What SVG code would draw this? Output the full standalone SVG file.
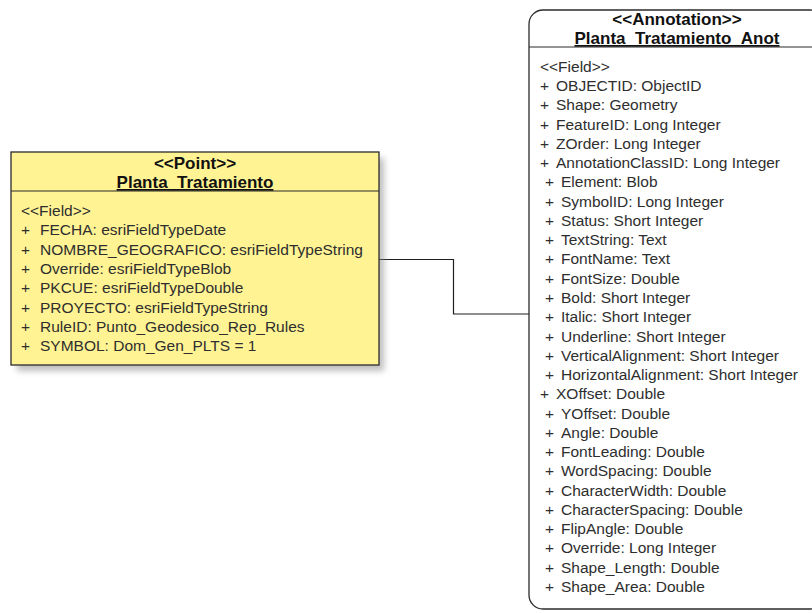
<svg xmlns="http://www.w3.org/2000/svg" width="812" height="613" viewBox="0 0 812 613">
  <style>
    .title { font-family: "Liberation Sans", Arial, sans-serif; font-size: 17px; font-weight: bold; fill: #111; text-anchor: middle; }
    .uline { text-decoration: underline; }
    .fld { font-family: "Liberation Sans", Arial, sans-serif; font-size: 15.5px; fill: #2e2e2e; }
    .box { stroke: #2b2b2b; stroke-width: 1.3; }
    .div { stroke: #2b2b2b; stroke-width: 1.2; }
    .conn { fill: none; stroke: #1e1e1e; stroke-width: 1.2; }
  </style>
  <defs>
    <filter id="shadow" x="-10%" y="-10%" width="130%" height="130%">
      <feGaussianBlur stdDeviation="3"/>
    </filter>
  </defs>
  <rect width="812" height="613" fill="#ffffff"/>

  <g id="connectors">
    <polyline class="conn" points="379,259.5 453.5,259.5 453.5,314 529,314"/>
  </g>

  <g id="node-planta-tratamiento">
    <rect x="17" y="158" width="367" height="213" fill="#8a8a8a" opacity="0.55" filter="url(#shadow)"/>
    <rect class="box" x="11" y="152" width="368" height="213" fill="#FFF394"/>
    <line class="div" x1="11" y1="191" x2="379" y2="191"/>
    <text class="title" x="195" y="168.5">&lt;&lt;Point&gt;&gt;</text>
    <text class="title uline" x="195" y="188">Planta_Tratamiento</text>
    <text class="fld" x="21" y="215.5">&lt;&lt;Field&gt;&gt;</text>
    <text class="fld" y="235"><tspan x="21">+</tspan><tspan x="40">FECHA: esriFieldTypeDate</tspan></text>
    <text class="fld" y="254.5"><tspan x="21">+</tspan><tspan x="40">NOMBRE_GEOGRAFICO: esriFieldTypeString</tspan></text>
    <text class="fld" y="274"><tspan x="21">+</tspan><tspan x="40">Override: esriFieldTypeBlob</tspan></text>
    <text class="fld" y="293.3"><tspan x="21">+</tspan><tspan x="40">PKCUE: esriFieldTypeDouble</tspan></text>
    <text class="fld" y="312.6"><tspan x="21">+</tspan><tspan x="40">PROYECTO: esriFieldTypeString</tspan></text>
    <text class="fld" y="332"><tspan x="21">+</tspan><tspan x="40">RuleID: Punto_Geodesico_Rep_Rules</tspan></text>
    <text class="fld" y="351.3"><tspan x="21">+</tspan><tspan x="40">SYMBOL: Dom_Gen_PLTS = 1</tspan></text>
  </g>

  <g id="node-planta-tratamiento-anot">
    <rect class="box" x="529" y="10" width="295" height="599" rx="14" ry="14" fill="#ffffff"/>
    <line class="div" x1="529" y1="47" x2="812" y2="47"/>
    <text class="title" x="677" y="24.5">&lt;&lt;Annotation&gt;&gt;</text>
    <text class="title uline" x="677" y="44">Planta_Tratamiento_Anot</text>
    <text class="fld" x="540" y="71.5">&lt;&lt;Field&gt;&gt;</text>
    <text class="fld" y="91"><tspan x="540">+</tspan><tspan x="556">OBJECTID: ObjectID</tspan></text>
    <text class="fld" y="110.3"><tspan x="540">+</tspan><tspan x="556">Shape: Geometry</tspan></text>
    <text class="fld" y="129.5"><tspan x="540">+</tspan><tspan x="556">FeatureID: Long Integer</tspan></text>
    <text class="fld" y="148.8"><tspan x="540">+</tspan><tspan x="556">ZOrder: Long Integer</tspan></text>
    <text class="fld" y="168.1"><tspan x="540">+</tspan><tspan x="556">AnnotationClassID: Long Integer</tspan></text>
    <text class="fld" y="187.4"><tspan x="545">+</tspan><tspan x="561">Element: Blob</tspan></text>
    <text class="fld" y="206.6"><tspan x="545">+</tspan><tspan x="561">SymbolID: Long Integer</tspan></text>
    <text class="fld" y="225.9"><tspan x="545">+</tspan><tspan x="561">Status: Short Integer</tspan></text>
    <text class="fld" y="245.2"><tspan x="545">+</tspan><tspan x="561">TextString: Text</tspan></text>
    <text class="fld" y="264.4"><tspan x="545">+</tspan><tspan x="561">FontName: Text</tspan></text>
    <text class="fld" y="283.7"><tspan x="545">+</tspan><tspan x="561">FontSize: Double</tspan></text>
    <text class="fld" y="303"><tspan x="545">+</tspan><tspan x="561">Bold: Short Integer</tspan></text>
    <text class="fld" y="322.2"><tspan x="545">+</tspan><tspan x="561">Italic: Short Integer</tspan></text>
    <text class="fld" y="341.5"><tspan x="545">+</tspan><tspan x="561">Underline: Short Integer</tspan></text>
    <text class="fld" y="360.8"><tspan x="545">+</tspan><tspan x="561">VerticalAlignment: Short Integer</tspan></text>
    <text class="fld" y="380"><tspan x="545">+</tspan><tspan x="561">HorizontalAlignment: Short Integer</tspan></text>
    <text class="fld" y="399.3"><tspan x="540">+</tspan><tspan x="556">XOffset: Double</tspan></text>
    <text class="fld" y="418.6"><tspan x="545">+</tspan><tspan x="561">YOffset: Double</tspan></text>
    <text class="fld" y="437.8"><tspan x="545">+</tspan><tspan x="561">Angle: Double</tspan></text>
    <text class="fld" y="457.1"><tspan x="545">+</tspan><tspan x="561">FontLeading: Double</tspan></text>
    <text class="fld" y="476.4"><tspan x="545">+</tspan><tspan x="561">WordSpacing: Double</tspan></text>
    <text class="fld" y="495.6"><tspan x="545">+</tspan><tspan x="561">CharacterWidth: Double</tspan></text>
    <text class="fld" y="514.9"><tspan x="545">+</tspan><tspan x="561">CharacterSpacing: Double</tspan></text>
    <text class="fld" y="534.2"><tspan x="545">+</tspan><tspan x="561">FlipAngle: Double</tspan></text>
    <text class="fld" y="553.4"><tspan x="545">+</tspan><tspan x="561">Override: Long Integer</tspan></text>
    <text class="fld" y="572.7"><tspan x="545">+</tspan><tspan x="561">Shape_Length: Double</tspan></text>
    <text class="fld" y="592"><tspan x="545">+</tspan><tspan x="561">Shape_Area: Double</tspan></text>
  </g>
</svg>
